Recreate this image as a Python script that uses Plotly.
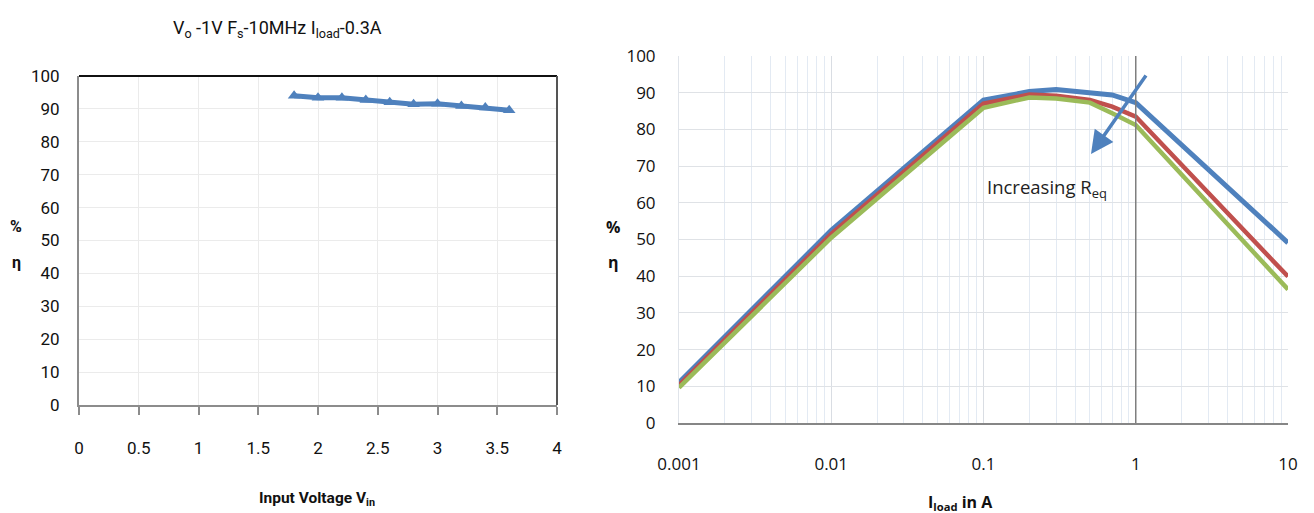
import plotly.graph_objects as go

# ---- Left chart data ----
vin = [1.8, 2.0, 2.2, 2.4, 2.6, 2.8, 3.0, 3.2, 3.4, 3.6]
eff_vin = [94.0, 93.4, 93.4, 92.7, 92.0, 91.4, 91.6, 90.9, 90.4, 89.6]
left_xticks = [0, 0.5, 1, 1.5, 2, 2.5, 3, 3.5, 4]
left_xlabels = ["0", "0.5", "1", "1.5", "2", "2.5", "3", "3.5", "4"]
yticks = [0, 10, 20, 30, 40, 50, 60, 70, 80, 90, 100]

# ---- Right chart data ----
iload = [0.001, 0.01, 0.1, 0.2, 0.3, 0.5, 0.7, 1, 10]
eff_blue = [11.0, 52.5, 88.0, 90.3, 90.9, 90.1, 89.4, 87.3, 49.1]
eff_red = [10.3, 51.5, 87.0, 89.5, 89.2, 88.0, 86.2, 83.5, 39.9]
eff_green = [9.6, 50.5, 85.9, 88.7, 88.4, 87.3, 84.4, 81.2, 36.4]
right_xticks = [0.001, 0.01, 0.1, 1, 10]
right_xlabels = ["0.001", "0.01", "0.1", "1", "10"]
decades = [0.001, 0.01, 0.1, 1]
minor_vals = [d * k for d in decades for k in range(2, 10)]

BLUE = "#4F81BD"
RED = "#C0504D"
GREEN = "#9BBB59"
NARROW = "Roboto, Liberation Sans, sans-serif"
REG = "Open Sans, Noto Sans, sans-serif"

W, H = 1314, 513
def px(x):
    return x / W
def py(y):
    return 1 - y / H

fig = go.Figure()

fig.add_trace(go.Scatter(
    x=vin, y=eff_vin, mode="lines+markers",
    line=dict(color=BLUE, width=5),
    marker=dict(symbol="triangle-up", size=11, color=BLUE),
    xaxis="x", yaxis="y", showlegend=False))

for vals, col, w in [(eff_blue, BLUE, 5), (eff_red, RED, 4.5), (eff_green, GREEN, 4.5)]:
    fig.add_trace(go.Scatter(
        x=iload, y=vals, mode="lines",
        line=dict(color=col, width=w),
        xaxis="x2", yaxis="y2", showlegend=False))

fig.update_layout(
    width=W, height=H,
    margin=dict(l=0, r=0, t=0, b=0, autoexpand=False),
    paper_bgcolor="white", plot_bgcolor="white",
    xaxis=dict(
        domain=[px(79), px(557)], range=[0, 4], anchor="y", automargin=False,
        tickvals=left_xticks, ticktext=left_xlabels,
        showgrid=True, gridcolor="#ebebeb", gridwidth=1,
        showline=True, linecolor="#8c8c8c", linewidth=2,
        ticks="outside", ticklen=8, tickwidth=1.5, tickcolor="#8c8c8c",
        ticklabelstandoff=19,
        tickfont=dict(family=NARROW, size=17, color="#111111"),
        zeroline=False),
    yaxis=dict(
        domain=[py(405), py(76)], range=[0, 100], anchor="x", automargin=False,
        tickvals=yticks,
        showgrid=True, gridcolor="#ebebeb", gridwidth=1,
        showline=True, linecolor="#8c8c8c", linewidth=2,
        ticks="", ticklabelstandoff=14,
        tickfont=dict(family=NARROW, size=17, color="#111111"),
        zeroline=False),
    xaxis2=dict(
        type="log", domain=[px(679), px(1288)], range=[-3, 1], anchor="y2",
        automargin=False,
        tickvals=right_xticks, ticktext=right_xlabels,
        showgrid=True, gridcolor="#d9dde3", gridwidth=1,
        minor=dict(tickvals=minor_vals, showgrid=True, gridcolor="#e3eaf3", gridwidth=1),
        showline=True, linecolor="#868686", linewidth=2,
        ticks="", ticklabelstandoff=25,
        tickfont=dict(family=REG, size=17, color="#111111"),
        zeroline=False),
    yaxis2=dict(
        domain=[py(423), py(56)], range=[0, 100], anchor="x2", automargin=False,
        tickvals=yticks,
        showgrid=True, gridcolor="#dfe2e6", gridwidth=1,
        showline=True, linecolor="#e0e4ea", linewidth=1,
        ticks="", ticklabelstandoff=19,
        tickfont=dict(family=REG, size=17, color="#111111"),
        zeroline=False),
)

# frame lines on left chart (top and right in black)
fig.add_shape(type="line", xref="x domain", yref="y domain", x0=0, x1=1, y0=1, y1=1,
              line=dict(color="#111111", width=2))
fig.add_shape(type="line", xref="x domain", yref="y domain", x0=1, x1=1, y0=0, y1=1,
              line=dict(color="#555555", width=2))
# vertical line at 1 A on right chart
fig.add_shape(type="line", xref="x2", yref="y2 domain", x0=1, x1=1, y0=0, y1=1,
              line=dict(color="#7f7f7f", width=1.5))

def note(text, x, y, family, size, color="#111111"):
    return dict(text=text, x=px(x), y=py(y), xref="paper", yref="paper",
                xanchor="center", yanchor="middle", showarrow=False,
                font=dict(family=family, size=size, color=color))

ann = []
ann.append(note("V<sub>o</sub> -1V F<sub>s</sub>-10MHz I<sub>load</sub>-0.3A", 277, 29, NARROW, 18))
ann.append(note("<b>Input Voltage V<sub>in</sub></b>", 317, 499, NARROW, 15.5))
ann.append(note("<b>I<sub>load</sub> in A</b>", 960, 502, REG, 16))
for xc, fam in [(16, NARROW), (613, REG)]:
    ann.append(note("<b>%</b>", xc, 227, fam, 16))
    ann.append(note("<b>η</b>", xc, 262, fam, 16))
ann.append(note("Increasing R<sub>eq</sub>", 1047, 188, REG, 18.5, "#222222"))
# arrow (head at lower-left, tail upper-right)
ann.append(dict(text="", x=-0.294, y=73.3, xref="x2", yref="y2",
                ax=0.074, ay=95.1, axref="x2", ayref="y2",
                showarrow=True, arrowhead=2, arrowsize=1.3, arrowwidth=3.5,
                arrowcolor=BLUE))
fig.update_layout(annotations=ann)

fig.write_html("out.html")
